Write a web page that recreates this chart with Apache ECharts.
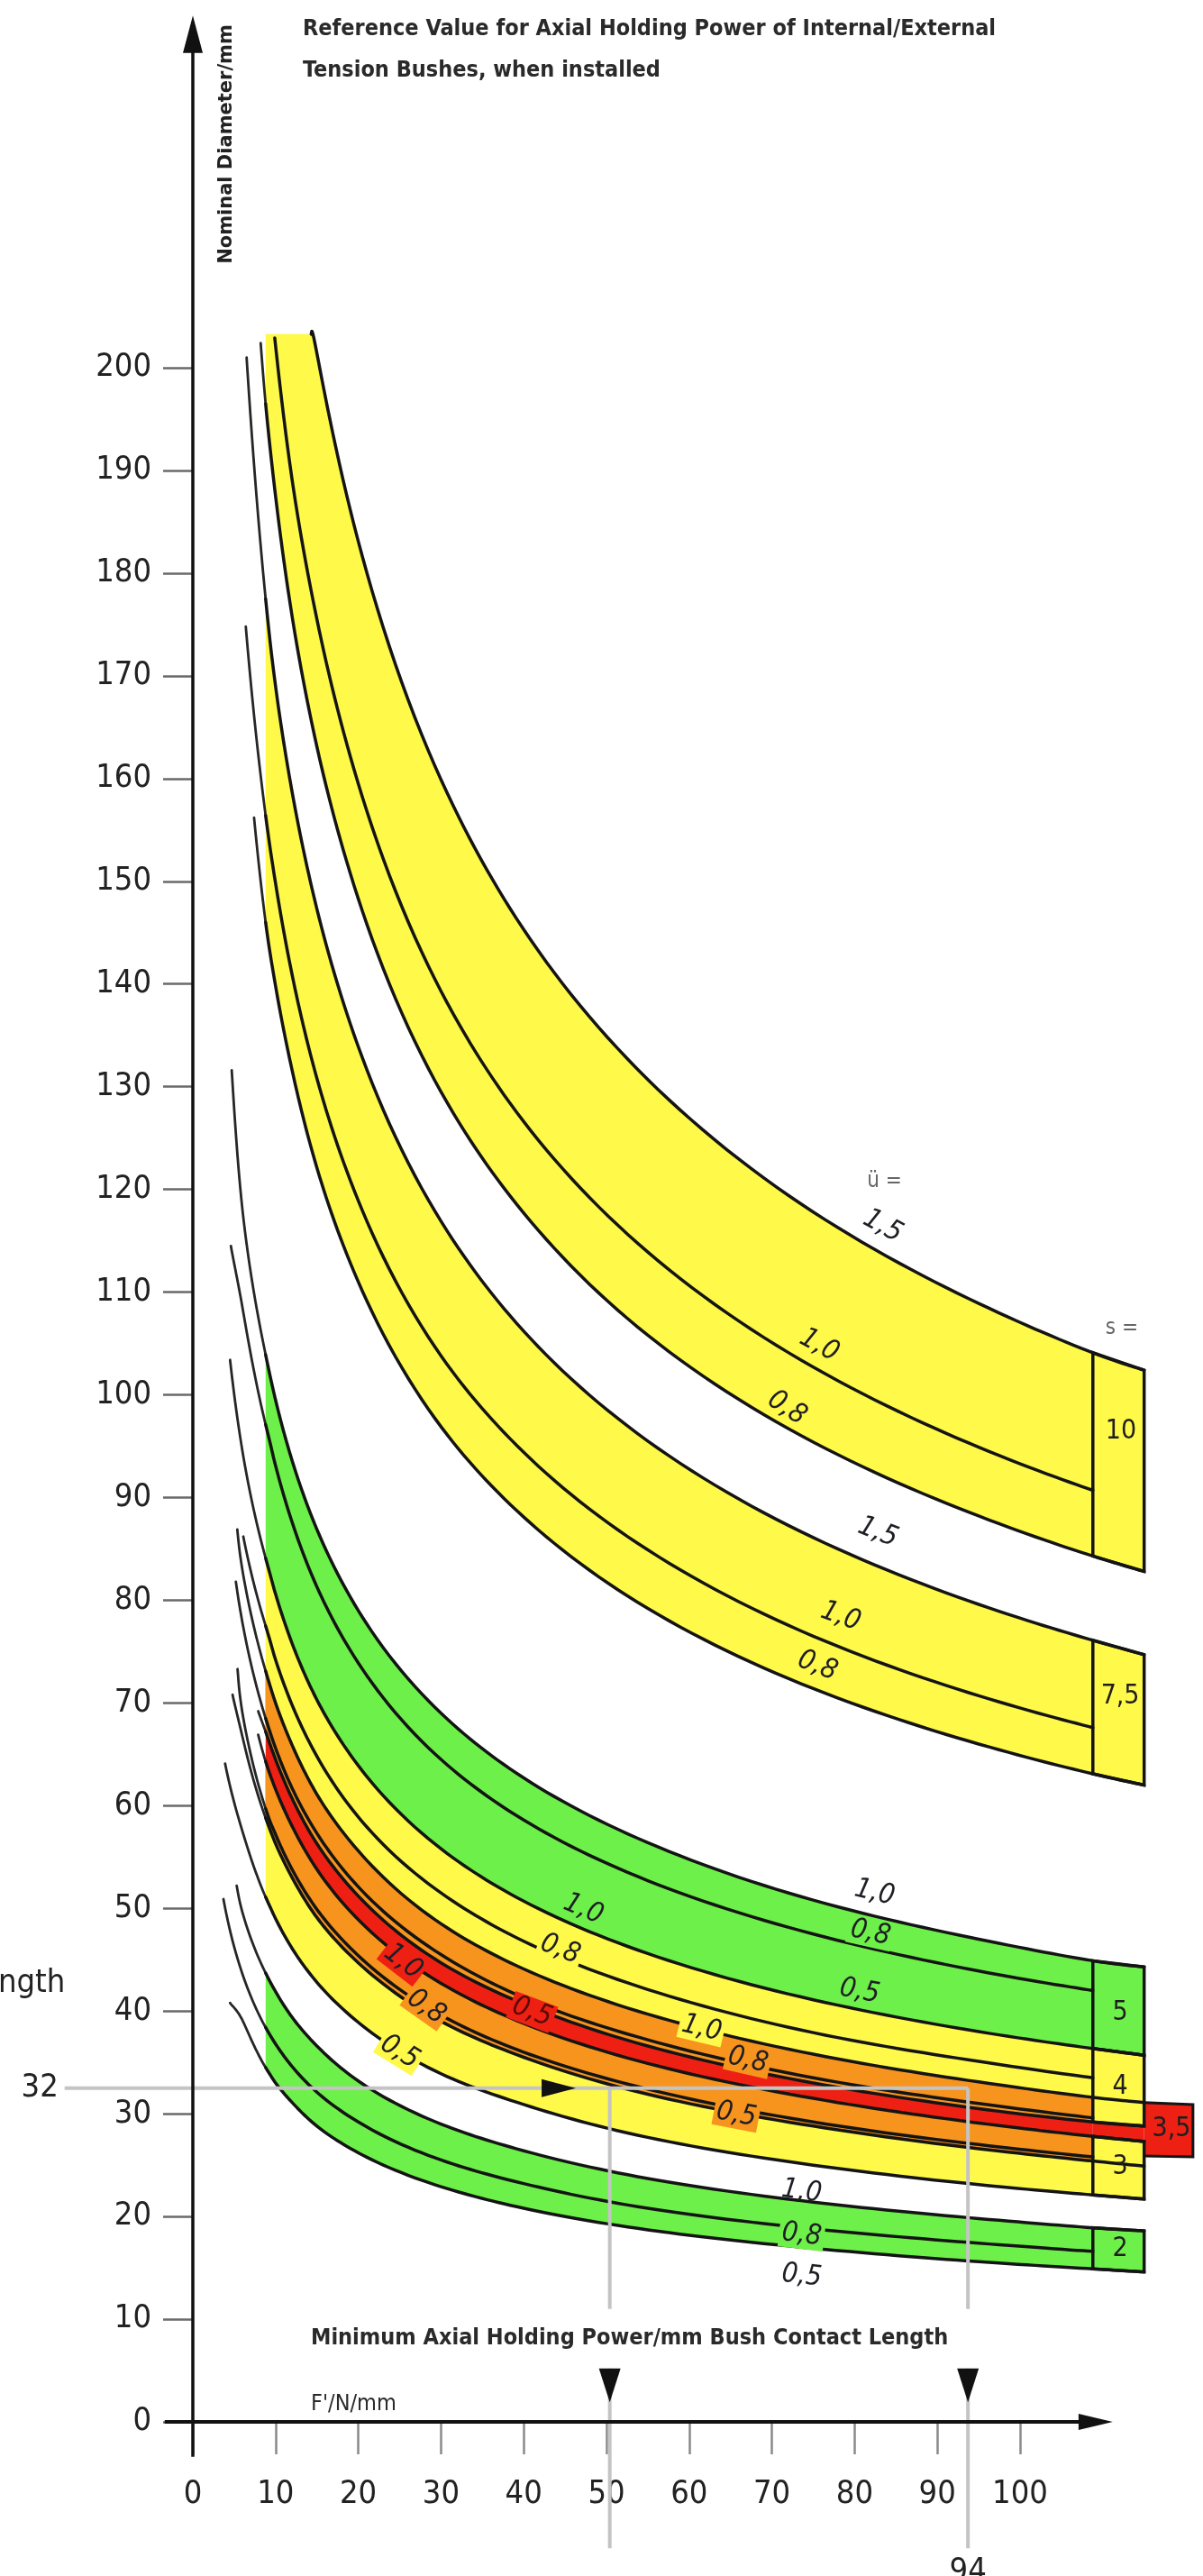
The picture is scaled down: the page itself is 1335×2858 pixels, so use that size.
<!DOCTYPE html>
<html>
<head>
<meta charset="utf-8">
<title>Axial Holding Power</title>
<script src="https://cdn.jsdelivr.net/npm/echarts@6.0.0/dist/echarts.min.js"></script>
<style>
html,body{margin:0;padding:0;background:#ffffff;}
#chart{width:1335px;height:2858px;}
</style>
</head>
<body>
<div id="chart"></div>
<script>
// ---------------- data ----------------
// x = F' (N/mm), y = nominal diameter (mm)
const xTickValues = [0,10,20,30,40,50,60,70,80,90,100];
const yTickValues = [0,10,20,30,40,50,60,70,80,90,100,110,120,130,140,150,160,170,180,190,200];

// s = 10
const s10_u15 = [[14.3,203.3],[15,201.4],[20,183.1],[30,159.9],[40,145.3],[55,130.7],[75,117.8],[95,108.9],[108.8,104.1],[115,102.4]];
const s10_u10 = [[9.9,202.9],[12,189.1],[15,175.5],[20,159.5],[30,139.3],[40,126.6],[55,113.9],[75,102.7],[95,94.9],[108.8,90.7]];
const s10_u08 = [[8.2,202.4],[8.8,196.5],[10,187.5],[12,175.8],[15,163.1],[20,148.3],[30,129.5],[40,117.7],[55,105.8],[75,95.4],[95,88.2],[108.8,84.3],[115,82.8]];
// s = 7.5
const s75_u15 = [[6.5,201.0],[8.8,177.5],[10,169.0],[12,158.7],[15,147.3],[20,133.9],[30,116.9],[40,106.2],[55,95.5],[75,86.1],[95,79.6],[108.8,76.1],[115,74.7]];
const s75_u10 = [[6.4,174.8],[8.8,156.4],[10,149.8],[12,140.9],[15,130.8],[20,118.9],[30,103.8],[40,94.4],[55,84.9],[75,76.5],[95,70.7],[108.8,67.6]];
const s75_u08 = [[7.4,156.2],[8.8,146.0],[10,139.8],[12,131.6],[15,122.1],[20,111.0],[30,96.9],[40,88.1],[55,79.2],[75,71.4],[95,66.0],[108.8,63.1],[115,62.0]];
// s = 5
const s5_u10 = [[4.7,131.6],[6,118.0],[8.8,103.9],[10,99.5],[12,93.6],[15,86.9],[20,79.0],[30,69.0],[40,62.7],[55,56.4],[75,50.8],[95,47.0],[108.8,44.9],[115,44.3]];
const s5_u08 = [[4.6,114.5],[6,108.5],[8.8,97.1],[10,93.1],[12,87.6],[15,81.3],[20,73.9],[30,64.5],[40,58.6],[55,52.7],[75,47.5],[95,43.9],[108.8,42.0]];
const s5_u05 = [[4.5,103.4],[6,94.5],[8.8,84.1],[10,80.6],[12,75.8],[15,70.3],[20,63.9],[30,55.8],[40,50.7],[55,45.6],[75,41.1],[95,38.0],[108.8,36.35],[115,35.7]];
// s = 4 (its u = 1.0 curve is the s = 5, u = 0.5 curve)
const s4_u10 = s5_u05;
const s4_u08 = [[6.1,86.2],[8.8,77.5],[10,74.2],[12,69.8],[15,64.8],[20,58.9],[30,51.5],[40,46.8],[55,42.1],[75,37.9],[95,35.1],[108.8,33.5]];
const s4_u05 = [[7.9,69.2],[8.8,67.2],[10,64.5],[12,60.7],[15,56.3],[20,51.2],[30,44.7],[40,40.7],[55,36.6],[75,33.0],[95,30.5],[108.8,29.2],[115,28.8]];
// s = 3.5
const s35_u10 = [[5.37,86.9],[6,82.9],[8.8,73.1],[10,70.0],[12,65.9],[15,61.1],[20,55.6],[30,48.5],[40,44.1],[55,39.7],[75,35.8],[95,33.1],[108.8,31.6],[115,31.1]];
const s35_u08 = [[5.2,81.8],[6,77.8],[8.8,68.5],[10,65.6],[12,61.7],[15,57.3],[20,52.1],[30,45.5],[40,41.3],[55,37.2],[75,33.5],[95,31.0],[108.8,29.6]];
const s35_u05 = [[4.8,70.8],[6,66.7],[8.8,58.8],[10,56.3],[12,53.0],[15,49.1],[20,44.7],[30,39.0],[40,35.5],[55,31.9],[75,28.8],[95,26.6],[108.8,25.4],[115,24.9]];
// s = 3
const s3_u10 = [[7.9,66.9],[8.8,64.3],[10,61.6],[12,58.0],[15,53.8],[20,48.9],[30,42.7],[40,38.8],[55,34.9],[75,31.5],[95,29.1],[108.8,27.8],[115,27.3]];
const s3_u08 = [[5.4,73.3],[6,69.0],[8.8,59.7],[10,57.2],[12,53.8],[15,49.9],[20,45.4],[30,39.6],[40,36.0],[55,32.4],[75,29.2],[95,27.0],[108.8,25.8]];
const s3_u05 = [[3.9,64.1],[6,57.5],[8.8,51.1],[10,49.0],[12,46.1],[15,42.8],[20,38.9],[30,33.9],[40,30.9],[55,27.7],[75,25.0],[95,23.1],[108.8,22.1],[115,21.7]];
// s = 2
const s2_u10 = [[5.3,52.2],[6,49.6],[8.8,43.7],[10,41.9],[12,39.4],[15,36.6],[20,33.2],[30,29.0],[40,26.4],[55,23.7],[75,21.4],[95,19.8],[108.8,18.9],[115,18.6]];
const s2_u08 = [[3.7,50.9],[6,43.6],[8.8,38.4],[10,36.8],[12,34.6],[15,32.1],[20,29.2],[30,25.5],[40,23.2],[55,20.8],[75,18.8],[95,17.4],[108.8,16.6]];
const s2_u05 = [[4.5,40.8],[6,39.1],[8.8,34.5],[10,33.0],[12,31.1],[15,28.8],[20,26.2],[30,22.9],[40,20.8],[55,18.7],[75,16.9],[95,15.6],[108.8,14.9],[115,14.6]];
// extra tab of the s = 3.5 band
const s35_tabTop = [[115,31.1],[120.9,30.9]];
const s35_tabBottom = [[115,25.9],[120.9,25.8]];

// worked example (d = 32 mm -> F' = 50 and 94 N/mm)
const exampleD = 32.5;
const exampleF = [50.4, 93.7];

// band labels (s = ...)
const bandLabels = [['10',112.2,96.4],['7,5',112.1,70.6],['5',112.1,39.8],['4',112.1,32.6],['3',112.1,24.8],['2',112.1,16.8],['3,5',118.3,28.5]];
// curve labels (ü = ...): text, x, y, curve
const curveLabels = [
  ['1,5',83.4,116.4,'s10_u15'],['1,0',75.7,104.8,'s10_u10'],['0,8',71.8,98.7,'s10_u08'],
  ['1,5',82.8,86.6,'s75_u15'],['1,0',78.3,78.4,'s75_u10'],['0,8',75.5,73.6,'s75_u08'],
  ['1,0',82.4,51.5,'s5_u10'],['0,8',81.9,47.6,'s5_u08'],['0,5',80.6,41.9,'s5_u05'],
  ['1,0',47.2,49.9,'s5_u05'],['0,8',44.4,46.0,'s4_u08'],['0,5',41.0,39.9,'s4_u05'],
  ['1,0',61.5,38.3,'s35_u10'],['0,8',67.1,35.2,'s35_u08'],['0,5',65.7,29.9,'s35_u05'],
  ['1,0',25.4,44.8,'s3_u10'],['0,8',28.2,40.4,'s3_u08'],['0,5',25.0,36.0,'s3_u05'],
  ['1,0',73.6,22.4,'s2_u10'],['0,8',73.6,18.2,'s2_u08'],['0,5',73.6,14.2,'s2_u05']
];

// ---------------- styling ----------------
const YEL = '#FFF94A', GRN = '#6EF04A', ORA = '#F7941E', RED = '#EE2014';
const LINE = '#141414';
const FONT = "'DejaVu Sans Condensed', 'DejaVu Sans', sans-serif";
const XL = 8.8, XR = 108.8, XB = 115;

const curves = {s10_u15,s10_u10,s10_u08,s75_u15,s75_u10,s75_u08,s5_u10,s5_u08,s5_u05,s4_u08,s4_u05,
  s35_u10,s35_u08,s35_u05,s3_u10,s3_u08,s3_u05,s2_u10,s2_u08,s2_u05};

const bands = [
  {up:s10_u15, lo:s10_u08, color:YEL, cap:203.3},
  {up:s75_u15, lo:s75_u08, color:YEL},
  {up:s5_u10, lo:s5_u05, color:GRN},
  {up:s4_u10, lo:s4_u05, color:YEL},
  {up:s3_u10, lo:s3_u05, color:YEL},
  {up:s35_u10, lo:s35_u05, color:RED},
  {up:s35_u10, lo:s4_u05, color:ORA},
  {up:s3_u10, lo:s35_u05, color:ORA},
  {up:s2_u10, lo:s2_u05, color:GRN}
];
const boxes = [
  {up:s10_u15, lo:s10_u08, color:YEL},
  {up:s75_u15, lo:s75_u08, color:YEL},
  {up:s5_u10, lo:s5_u05, color:GRN},
  {up:s4_u10, lo:s4_u05, color:YEL},
  {up:s3_u10, lo:s3_u05, color:YEL},
  {up:s2_u10, lo:s2_u05, color:GRN}
];
const labelBg = {
  's5_u08':GRN,'s4_u08':YEL,'s4_u05':RED,'s35_u10':YEL,'s35_u08':ORA,'s35_u05':ORA,
  's3_u10':RED,'s3_u08':ORA,'s3_u05':YEL,'s2_u08':GRN
};

function valAt(c, x){
  for (let i=0;i<c.length-1;i++){ if (x>=c[i][0] && x<=c[i+1][0]) { const t=(x-c[i][0])/(c[i+1][0]-c[i][0]); return c[i][1]+t*(c[i+1][1]-c[i][1]); } }
  return c[c.length-1][1];
}
// smooth drawing: Catmull-Rom through the read points in log-log space, mapped with the axis scales
function denseData(c){
  const lp=c.map(p=>[Math.log(p[0]),Math.log(p[1])]);
  const out=[];
  const n=14;
  for (let i=0;i<lp.length-1;i++){
    const p0=lp[Math.max(i-1,0)], p1=lp[i], p2=lp[i+1], p3=lp[Math.min(i+2,lp.length-1)];
    for (let k=(i===0?0:1);k<=n;k++){
      const t=k/n, t2=t*t, t3=t2*t;
      const f=(a,b,cc,d)=>0.5*((2*b)+(-a+cc)*t+(2*a-5*b+4*cc-d)*t2+(-a+3*b-3*cc+d)*t3);
      out.push([Math.exp(f(p0[0],p1[0],p2[0],p3[0])), Math.exp(f(p0[1],p1[1],p2[1],p3[1]))]);
    }
  }
  return out;
}
const dense=(c,api)=>denseData(c).map(p=>api.coord(p));
const within=(c,a,b)=>c.filter(p=>p[0]>=a-1e-6 && p[0]<=b+1e-6);

function renderFills(params, api){
  const children=[];
  bands.forEach(b=>{
    const U=dense(within(b.up,XL,XR),api);
    const Lo=dense(within(b.lo,XL,XR),api);
    let pts=[];
    if (b.cap!=null){ pts.push(api.coord([XL,b.cap])); }
    pts=pts.concat(U, Lo.slice().reverse());
    children.push({type:'polygon',shape:{points:pts},style:{fill:b.color,stroke:null}});
  });
  // s = 3.5 band between the boxes, and its tab
  const r1=api.coord([XR,valAt(s4_u05,XR)+0.3]), r2=api.coord([XB,valAt(s4_u05,XB)+0.3]), r3=api.coord([XB,valAt(s3_u10,XB)-0.3]), r4=api.coord([XR,valAt(s3_u10,XR)-0.3]);
  children.push({type:'polygon',shape:{points:[r1,r2,r3,r4]},style:{fill:RED}});
  const a=api.coord(s35_tabTop[0]), b2=api.coord(s35_tabTop[1]), c=api.coord(s35_tabBottom[1]), e=api.coord(s35_tabBottom[0]);
  children.push({type:'polygon',shape:{points:[a,b2,c,e]},style:{fill:RED}});
  children.push({type:'polyline',shape:{points:[a,b2,c,e]},style:{fill:null,stroke:LINE,lineWidth:3,lineJoin:'miter'}});
  boxes.forEach(bx=>{
    const p1=api.coord([XR,valAt(bx.lo,XR)]), p2=api.coord([XB,valAt(bx.lo,XB)]), p3=api.coord([XB,valAt(bx.up,XB)]), p4=api.coord([XR,valAt(bx.up,XR)]);
    children.push({type:'polygon',shape:{points:[p1,p2,p3,p4]},style:{fill:bx.color,stroke:LINE,lineWidth:3.5,lineJoin:'miter'}});
  });
  return {type:'group',children};
}
function renderCurves(params, api){
  const children=[];
  Object.keys(curves).forEach(k=>{
    const D=denseData(curves[k]);
    const thin=D.filter(p=>p[0]<=XL+0.05).map(p=>api.coord(p));
    const thick=D.filter(p=>p[0]>=XL-0.05).map(p=>api.coord(p));
    if (thin.length>1) children.push({type:'polyline',shape:{points:thin},style:{fill:null,stroke:'#262626',lineWidth:2.8,lineCap:'round',lineJoin:'round'}});
    if (thick.length>1) children.push({type:'polyline',shape:{points:thick},style:{fill:null,stroke:LINE,lineWidth:3.5,lineCap:'round',lineJoin:'round'}});
  });
  return {type:'group',children};
}
function renderLabels(params, api){
  const children=[];
  curveLabels.forEach(([t,x,y,k])=>{
    const c=curves[k]||s5_u05;
    const a=api.coord([x-2,valAt(c,x-2)]), b=api.coord([x+2,valAt(c,x+2)]);
    const rot=-Math.atan2(b[1]-a[1], b[0]-a[0]);
    const p=api.coord([x,y]);
    const bg=labelBg[k];
    const inline = bg && Math.abs(valAt(c,x)-y)<1.5;
    children.push({type:'text',x:p[0],y:p[1],rotation:rot,
      style:{text:t,fontFamily:FONT,fontSize:31,fontStyle:'italic',fill:(k==='s4_u05')?'#5a0a05':'#1e1e24',align:'center',verticalAlign:'middle',
      backgroundColor: inline?bg:null, padding: inline?[0,3]:0}});
  });
  bandLabels.forEach(([t,x,y])=>{
    const p=api.coord([x,y]);
    children.push({type:'text',x:p[0],y:p[1],style:{text:t,fontFamily:FONT,fontSize:30,fill:'#1e1e1e',align:'center',verticalAlign:'middle'}});
  });
  const pu=api.coord([83.6,120.8]);
  children.push({type:'text',x:pu[0],y:pu[1],style:{text:'ü =',fontFamily:FONT,fontSize:24,fill:'#666',align:'center',verticalAlign:'middle'}});
  const ps=api.coord([112.3,106.5]);
  children.push({type:'text',x:ps[0],y:ps[1],style:{text:'s =',fontFamily:FONT,fontSize:24,fill:'#666',align:'center',verticalAlign:'middle'}});
  return {type:'group',children};
}
function renderGuides(params, api){
  const children=[];
  const G='#c4c4c4';
  const h1=api.coord([-15.5,exampleD]), h2=api.coord([exampleF[1],exampleD]);
  children.push({type:'line',shape:{x1:h1[0],y1:h1[1],x2:h2[0],y2:h2[1]},style:{stroke:G,lineWidth:4}});
  exampleF.forEach(f=>{
    const a=api.coord([f,exampleD]), b=api.coord([f,11.0]);
    children.push({type:'line',shape:{x1:a[0],y1:a[1],x2:b[0],y2:b[1]},style:{stroke:G,lineWidth:4}});
    const c=api.coord([f,5.2]), e=api.coord([f,-12.3]);
    children.push({type:'line',shape:{x1:c[0],y1:c[1],x2:e[0],y2:e[1]},style:{stroke:G,lineWidth:4}});
    const tip=api.coord([f,1.9]);
    children.push({type:'polygon',shape:{points:[[tip[0]-12,c[1]],[tip[0]+12,c[1]],[tip[0],tip[1]]]},style:{fill:'#111'}});
  });
  const at=api.coord([46.3,exampleD]);
  children.push({type:'polygon',shape:{points:[[at[0]-38,at[1]-10],[at[0]-38,at[1]+10],[at[0],at[1]]]},style:{fill:'#111'}});
  // axis lines with arrows
  const y0=api.coord([0,-3.4]), y1=api.coord([0,231]), yt=api.coord([0,234.3]);
  children.push({type:'line',shape:{x1:y0[0],y1:y0[1],x2:y1[0],y2:y1[1]},style:{stroke:'#111',lineWidth:3.5}});
  children.push({type:'polygon',shape:{points:[[yt[0]-11,y1[1]+4],[yt[0]+11,y1[1]+4],[yt[0],yt[1]]]},style:{fill:'#111'}});
  const x0=api.coord([-3.4,0]), x1=api.coord([107.5,0]), xt=api.coord([111.2,0]);
  children.push({type:'line',shape:{x1:x0[0],y1:x0[1],x2:x1[0],y2:x1[1]},style:{stroke:'#111',lineWidth:4}});
  children.push({type:'polygon',shape:{points:[[x1[0]-4,xt[1]-9],[x1[0]-4,xt[1]+9],[xt[0],xt[1]]]},style:{fill:'#111'}});
  const p32=api.coord([-18.5,exampleD]);
  children.push({type:'text',x:p32[0],y:p32[1],style:{text:'32',fontFamily:FONT,fontSize:36,fill:'#222',align:'center',verticalAlign:'middle'}});
  const p94=api.coord([exampleF[1],-14.6]);
  children.push({type:'text',x:p94[0],y:p94[1],style:{text:'94',fontFamily:FONT,fontSize:36,fill:'#222',align:'center',verticalAlign:'middle'}});
  return {type:'group',children};
}

const chart = echarts.init(document.getElementById('chart'), null, {renderer:'canvas'});
const one=[[0,0]];
chart.setOption({
  backgroundColor:'#ffffff',
  animation:false,
  grid:{left:214, top:9.2, width:122*9.18, height:235*11.395, containLabel:false},
  xAxis:{type:'value', min:0, max:122, interval:10,
    axisLine:{show:false}, splitLine:{show:false},
    axisTick:{show:true, length:36, inside:false, customValues:xTickValues, lineStyle:{color:'#8a8a8a', width:2.5}},
    axisLabel:{show:true, customValues:xTickValues, margin:63, fontSize:36, fontFamily:FONT, color:'#222'}},
  yAxis:{type:'value', min:0, max:235, interval:10,
    axisLine:{show:false}, splitLine:{show:false},
    axisTick:{show:true, length:33, inside:false, customValues:yTickValues, lineStyle:{color:'#6a6a6a', width:2.5}},
    axisLabel:{show:true, customValues:yTickValues, margin:46, fontSize:36, fontFamily:FONT, color:'#222'}},
  graphic:[
    {type:'text', left:336, top:20, style:{text:'Reference Value for Axial Holding Power of Internal/External', fontFamily:FONT, fontSize:25, fontWeight:'bold', fill:'#2a2a2a'}},
    {type:'text', left:336, top:66, style:{text:'Tension Bushes, when installed', fontFamily:FONT, fontSize:25, fontWeight:'bold', fill:'#2a2a2a'}},
    {type:'text', x:252, y:160, rotation:Math.PI/2, style:{text:'Nominal Diameter/mm', fontFamily:"'DejaVu Sans', sans-serif", fontSize:21, fontWeight:'bold', fill:'#222', align:'center', verticalAlign:'middle'}},
    {type:'text', left:345, top:2582, style:{text:'Minimum Axial Holding Power/mm Bush Contact Length', fontFamily:FONT, fontSize:25, fontWeight:'bold', fill:'#2a2a2a'}},
    {type:'text', left:345, top:2655, style:{text:"F'/N/mm", fontFamily:FONT, fontSize:25, fill:'#2a2a2a'}},
    {type:'text', x:-2, y:2201, style:{text:'ngth', fontFamily:FONT, fontSize:36, fill:'#222', verticalAlign:'middle'}}
  ],
  series:[
    {type:'custom', z:1, data:one, renderItem:renderFills, clip:false, silent:true},
    {type:'custom', z:2, data:one, renderItem:renderCurves, clip:false, silent:true},
    {type:'custom', z:3, data:one, renderItem:renderGuides, clip:false, silent:true},
    {type:'custom', z:4, data:one, renderItem:renderLabels, clip:false, silent:true}
  ]
});
</script>
</body>
</html>
